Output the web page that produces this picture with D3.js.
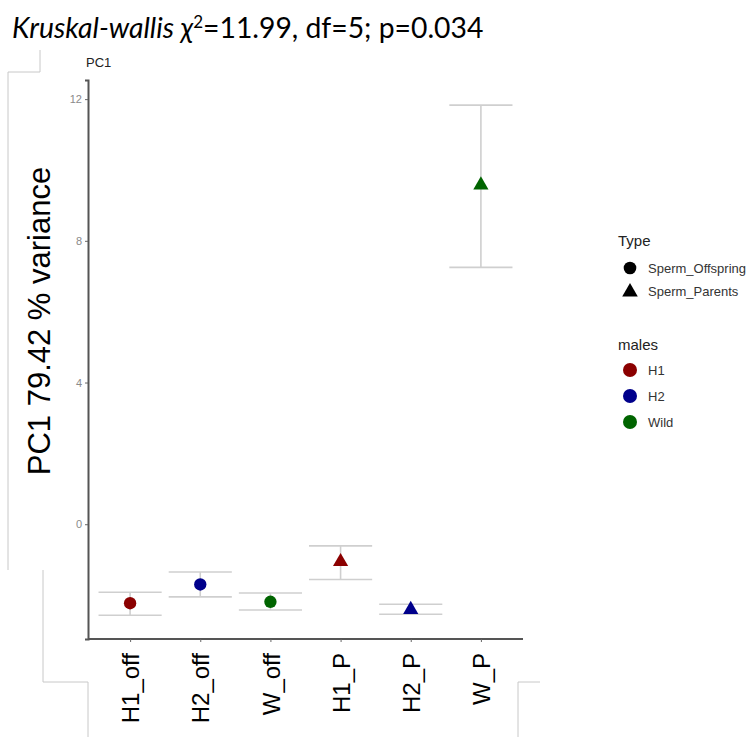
<!DOCTYPE html>
<html>
<head>
<meta charset="utf-8">
<script src="https://cdn.jsdelivr.net/npm/d3@7"></script>
<style>
  body { margin: 0; background: #fff; }
  svg { display: block; font-family: "Liberation Sans", Arial, sans-serif; }
</style>
</head>
<body>
<svg id="chart" width="753" height="737"></svg>
<script>
// groups on the x axis, with their PC1 mean and error bar limits
const groups = ['H1_off', 'H2_off', 'W_off', 'H1_P', 'H2_P', 'W_P'];
const means = [-2.23, -1.70, -2.19, -1.03, -2.38, 9.60];
const upper = [-1.92, -1.35, -1.94, -0.61, -2.26, 11.83];
const lower = [-2.57, -2.05, -2.42, -1.56, -2.54, 7.25];
const groupType = ['Sperm_Offspring', 'Sperm_Offspring', 'Sperm_Offspring', 'Sperm_Parents', 'Sperm_Parents', 'Sperm_Parents'];
const groupMales = ['H1', 'H2', 'Wild', 'H1', 'H2', 'Wild'];

const yTicks = [0, 4, 8, 12];
const typeLevels = ['Sperm_Offspring', 'Sperm_Parents'];
const malesLevels = ['H1', 'H2', 'Wild'];
const malesColors = ['#8b0000', '#00008b', '#006400'];

const svg = d3.select('#chart');

const plot = { left: 88, right: 523, top: 80, bottom: 639 };

const x = d3.scalePoint().domain(groups).range([plot.left, plot.right]).padding(0.6);
const y = d3.scaleLinear().domain([-3.24, 12.54]).range([plot.bottom, plot.top]);
const color = d3.scaleOrdinal().domain(malesLevels).range(malesColors);
const shape = d3.scaleOrdinal().domain(typeLevels).range([d3.symbolCircle, d3.symbolTriangle]);
const symbolSize = { Sperm_Offspring: 120, Sperm_Parents: 100 };

// light grey frame pieces left over from the slide layout
const frame = svg.append('g').attr('fill', 'none').attr('stroke', '#c8c8c8').attr('stroke-width', 1);
frame.append('path').attr('d', 'M40,50V72H8V570');
frame.append('path').attr('d', 'M43,570V682H88V737');
frame.append('path').attr('d', 'M540,682H518V737');

// title
const title = svg.append('text')
  .attr('x', 12).attr('y', 38)
  .style('font-family', 'Lato, "Open Sans", sans-serif')
  .style('font-size', '28.3px')
  .attr('fill', '#000');
title.append('tspan').style('font-style', 'italic').text('Kruskal-wallis \u03c7');
title.append('tspan').attr('dy', -10).style('font-size', '17px').text('2');
title.append('tspan').attr('dy', 10).text('=11.99, df=5; p=0.034');

svg.append('text')
  .attr('x', 86).attr('y', 67)
  .style('font-size', '13px').attr('fill', '#222')
  .text('PC1');

// error bars
const bars = svg.append('g').attr('stroke', '#cfcfcf').attr('stroke-width', 1.6);
const half = x.step() * 0.45;
groups.forEach((g, i) => {
  const cx = x(g);
  bars.append('line').attr('x1', cx).attr('x2', cx).attr('y1', y(upper[i])).attr('y2', y(lower[i]));
  bars.append('line').attr('x1', cx - half).attr('x2', cx + half).attr('y1', y(upper[i])).attr('y2', y(upper[i]));
  bars.append('line').attr('x1', cx - half).attr('x2', cx + half).attr('y1', y(lower[i])).attr('y2', y(lower[i]));
});

// points
svg.append('g').selectAll('path')
  .data(groups)
  .join('path')
  .attr('transform', (g, i) => `translate(${x(g)},${y(means[i]) + (groupType[i] === 'Sperm_Parents' ? 1 : 0)})`)
  .attr('d', (g, i) => d3.symbol().type(shape(groupType[i])).size(symbolSize[groupType[i]])())
  .attr('fill', (g, i) => color(groupMales[i]));

// axes
const yAxis = svg.append('g')
  .attr('transform', `translate(${plot.left},0)`)
  .call(d3.axisLeft(y).tickValues(yTicks).tickSize(3).tickPadding(3));
yAxis.select('.domain').attr('stroke', '#555').attr('stroke-width', 2);
yAxis.selectAll('.tick line').attr('stroke', '#666');
yAxis.selectAll('.tick text').attr('fill', '#8a8a8a').style('font-size', '11px').style('font-family', '"Liberation Sans", Arial, sans-serif');

const xAxis = svg.append('g')
  .attr('transform', `translate(0,${plot.bottom})`)
  .call(d3.axisBottom(x).tickSize(3).tickPadding(0));
xAxis.select('.domain').attr('stroke', '#555').attr('stroke-width', 2)
  .attr('d', `M${plot.left},0H${plot.right}`);
xAxis.selectAll('.tick line').attr('stroke', '#666');
xAxis.selectAll('.tick text')
  .attr('fill', '#000')
  .style('font-size', '24px')
  .style('font-family', '"Liberation Sans", Arial, sans-serif')
  .attr('text-anchor', 'end')
  .attr('transform', 'rotate(-90)')
  .attr('x', -14)
  .attr('y', 0)
  .attr('dy', '0.36em');

// y axis title
svg.append('text')
  .attr('transform', 'translate(50,321) rotate(-90)')
  .attr('text-anchor', 'middle')
  .style('font-size', '31px')
  .attr('fill', '#000')
  .text('PC1 79.42 % variance');

// legends
const legend = svg.append('g').attr('transform', 'translate(618,0)');
legend.append('text').attr('x', 0).attr('y', 246).style('font-size', '15px').attr('fill', '#222').text('Type');
typeLevels.forEach((t, i) => {
  const cy = 268 + i * 23;
  legend.append('path')
    .attr('transform', `translate(12,${cy + (i === 1 ? 1 : 0)})`)
    .attr('d', d3.symbol().type(shape(t)).size(symbolSize[t] * 1.05)())
    .attr('fill', '#000');
  legend.append('text').attr('x', 30).attr('y', cy + 4.5).style('font-size', '13px').attr('fill', '#333').text(t);
});
legend.append('text').attr('x', 0).attr('y', 350).style('font-size', '15px').attr('fill', '#222').text('males');
malesLevels.forEach((m, i) => {
  const cy = 370 + i * 26;
  legend.append('circle').attr('cx', 12).attr('cy', cy).attr('r', 7).attr('fill', color(m));
  legend.append('text').attr('x', 30).attr('y', cy + 4.5).style('font-size', '13px').attr('fill', '#333').text(m);
});
</script>
</body>
</html>
